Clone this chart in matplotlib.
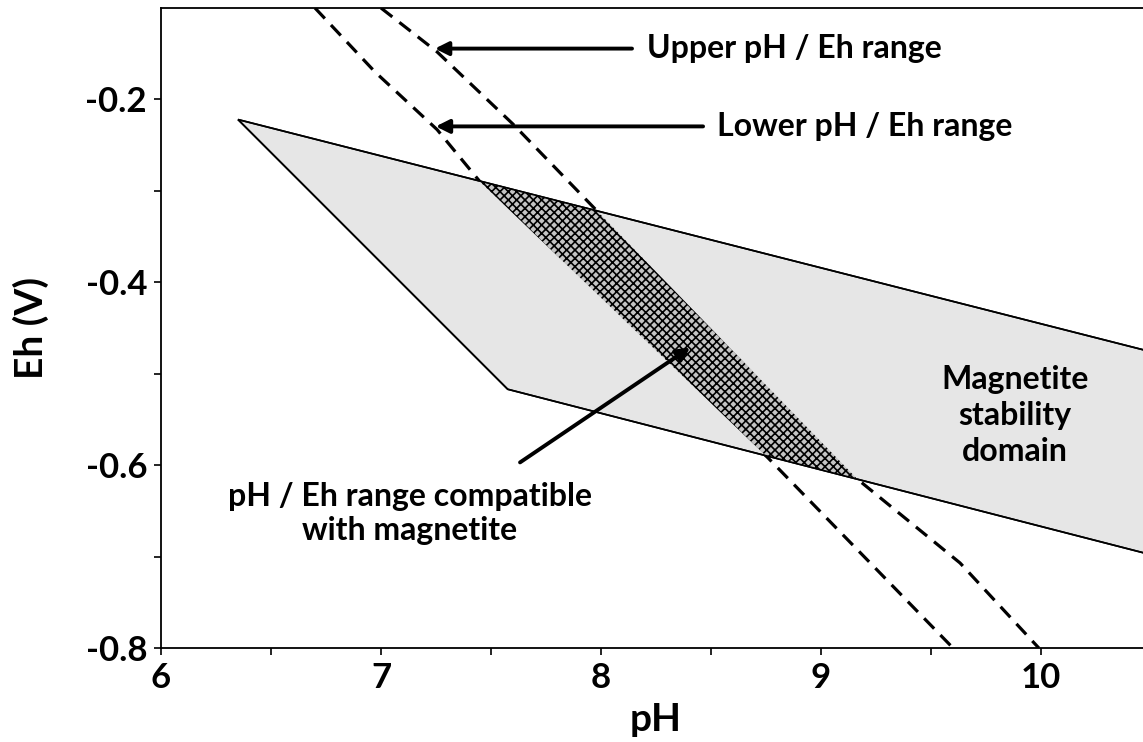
import matplotlib
matplotlib.use("Agg")
import matplotlib.pyplot as plt
from matplotlib.patches import Polygon
import numpy as np

plt.rcParams['font.family'] = ['Lato', 'DejaVu Sans']
plt.rcParams['font.weight'] = 'bold'
plt.rcParams['hatch.linewidth'] = 1.2

# Magnetite stability domain (pH, Eh)
domain_ph = [6.35, 10.5, 10.5, 7.576]
domain_eh = [-0.222, -0.476, -0.698, -0.517]

# Lower pH / Eh range (dashed)
lower_ph = [6.70, 6.973, 7.255, 7.45, 8.759, 9.60]
lower_eh = [-0.100, -0.170, -0.233, -0.290, -0.592, -0.800]

# Upper pH / Eh range (dashed)
upper_ph = [7.00, 7.255, 7.60, 7.982, 9.164, 9.632, 9.99]
upper_eh = [-0.100, -0.148, -0.227, -0.322, -0.615, -0.707, -0.800]

x_ticks = [6, 7, 8, 9, 10]
y_ticks = [-0.8, -0.6, -0.4, -0.2]

W, H = 1143, 742
fig = plt.figure(figsize=(W / 100, H / 100), dpi=100)
ax = fig.add_axes([161 / W, 94 / H, (1151 - 161) / W, (648 - 8) / H])

# dashed lines first (hidden under the domain)
ax.plot(lower_ph, lower_eh, color='black', lw=2.3, ls=(0, (4.5, 2.8)), zorder=1)
ax.plot(upper_ph, upper_eh, color='black', lw=2.3, ls=(0, (4.5, 2.8)), zorder=1)

dom = Polygon(np.column_stack([domain_ph, domain_eh]), closed=True,
              facecolor='#e6e6e6', edgecolor='black', lw=1.2, zorder=2)
ax.add_patch(dom)

# band between dashed lines, clipped to the domain
band_pts = np.vstack([np.column_stack([lower_ph, lower_eh]),
                      np.column_stack([upper_ph, upper_eh])[::-1]])
band = Polygon(band_pts, closed=True, facecolor='#c4c4c4', edgecolor='black',
               hatch='xxxx', lw=0, zorder=3)
ax.add_patch(band)
clip = Polygon(np.column_stack([domain_ph, domain_eh]), closed=True,
               transform=ax.transData, facecolor='none', edgecolor='none')
band.set_clip_path(clip)
dom_edge = Polygon(np.column_stack([domain_ph, domain_eh]), closed=True,
                   facecolor='none', edgecolor='black', lw=1.2, zorder=4)
ax.add_patch(dom_edge)

ax.set_xlim(6, 10.5)
ax.set_ylim(-0.8, -0.1)
ax.set_xticks(x_ticks)
ax.set_yticks(y_ticks)
ax.set_xticklabels([str(v) for v in x_ticks])
ax.set_yticklabels(['%.1f' % v for v in y_ticks])
ax.set_xticks(np.arange(6.5, 10.5, 1.0), minor=True)
ax.set_yticks(np.arange(-0.7, -0.1, 0.2), minor=True)
ax.tick_params(which='both', direction='out', length=5, width=1.2,
               labelsize=25, pad=5)
for lab in ax.get_xticklabels() + ax.get_yticklabels():
    lab.set_fontweight('bold')
for s in ['left', 'bottom', 'top']:
    ax.spines[s].set_linewidth(1.3)
ax.spines['right'].set_visible(False)

ax.set_xlabel('pH', fontsize=28, fontweight='bold', labelpad=6)
ax.set_ylabel('Eh (V)', fontsize=28, fontweight='bold', labelpad=26)

arrow = dict(arrowstyle='-|>', lw=2.8, color='black', mutation_scale=20,
             shrinkA=0, shrinkB=0)
ax.annotate('', xy=(7.245, -0.1444), xytext=(8.141, -0.1444), arrowprops=arrow, zorder=5)
ax.text(8.209, -0.1444, 'Upper pH / Eh range', fontsize=23, fontweight='bold',
        ha='left', va='center')
ax.annotate('', xy=(7.249, -0.2295), xytext=(8.464, -0.2295), arrowprops=arrow, zorder=5)
ax.text(8.527, -0.2295, 'Lower pH / Eh range', fontsize=23, fontweight='bold',
        ha='left', va='center')
ax.annotate('', xy=(8.405, -0.4713), xytext=(7.632, -0.597), arrowprops=arrow, zorder=5)
ax.text(7.132, -0.6527, 'pH / Eh range compatible\nwith magnetite', fontsize=23,
        fontweight='bold', ha='center', va='center', linespacing=1.2)
ax.text(9.882, -0.5458, 'Magnetite\nstability\ndomain', fontsize=23,
        fontweight='bold', ha='center', va='center', linespacing=1.3)

fig.savefig('out.png', dpi=100)
